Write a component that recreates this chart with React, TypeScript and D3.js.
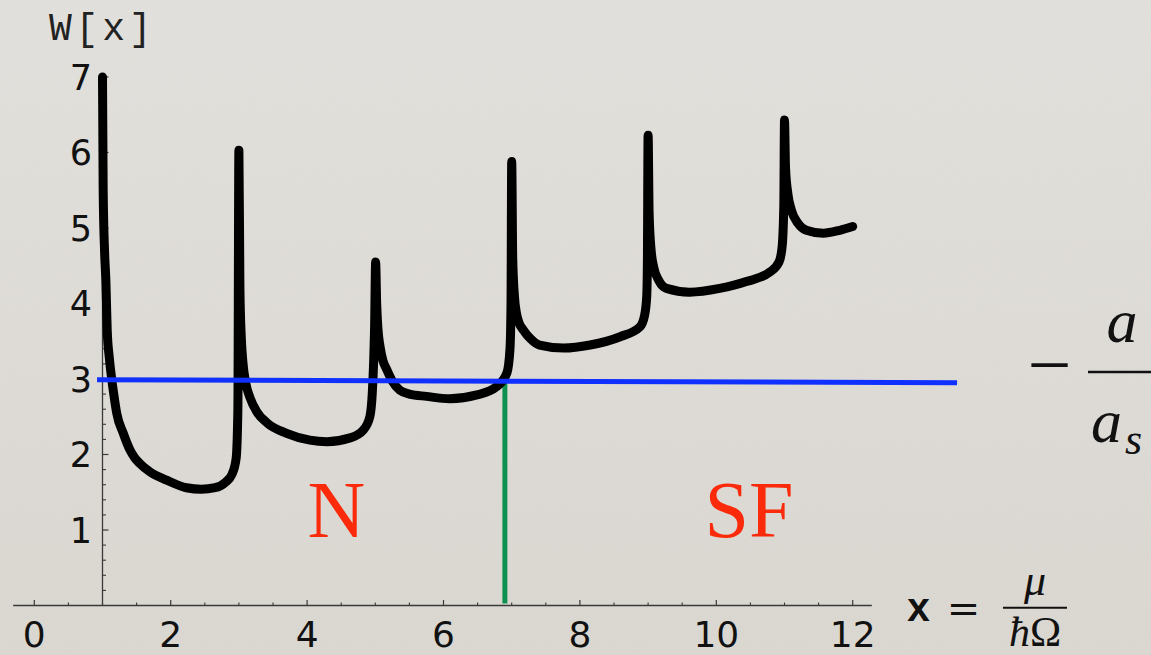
import React from "react";
import * as d3 from "d3";

// W[x] curve samples (x, W)
const curveX = [
  1.0, 1.01, 1.03, 1.05, 1.069, 1.1, 1.135, 1.17, 1.208, 1.305, 1.403, 1.47, 1.549, 1.696, 1.94, 2.23, 2.45, 2.65, 2.8, 2.9, 2.96, 2.985, 3.0,
  3.015, 3.035, 3.06, 3.1, 3.16, 3.26, 3.41, 3.7, 4.04, 4.29, 4.63, 4.82, 4.92, 4.955, 4.975, 4.99, 5.005,
  5.02, 5.04, 5.07, 5.11, 5.17, 5.25, 5.36, 5.5, 5.75, 6.09, 6.49, 6.78, 6.93, 6.975, 6.99, 7.0,
  7.015, 7.04, 7.07, 7.11, 7.17, 7.28, 7.41, 7.76, 8.15, 8.59, 8.88, 8.95, 8.98, 8.99, 9.0,
  9.015, 9.04, 9.08, 9.16, 9.27, 9.61, 10.05, 10.44, 10.79, 10.92, 10.965, 10.99, 11.0,
  11.015, 11.05, 11.1, 11.2, 11.32, 11.57, 11.81, 12.0,
];
const curveW = [
  7.0, 5.5, 4.7, 4.29, 3.65, 3.28, 3.0, 2.77, 2.55, 2.28, 2.06, 1.96, 1.88, 1.77, 1.66, 1.56, 1.54, 1.56, 1.63, 1.74, 1.95, 2.6, 6.03,
  4.2, 3.55, 3.21, 2.95, 2.76, 2.57, 2.42, 2.28, 2.19, 2.17, 2.22, 2.32, 2.5, 2.8, 3.21, 3.7, 4.55,
  4.0, 3.65, 3.43, 3.25, 3.12, 2.97, 2.85, 2.8, 2.77, 2.74, 2.79, 2.9, 3.08, 3.4, 4.0, 5.88,
  4.6, 4.1, 3.87, 3.74, 3.65, 3.53, 3.45, 3.41, 3.45, 3.56, 3.69, 3.85, 4.1, 4.6, 6.23,
  5.2, 4.75, 4.49, 4.3, 4.2, 4.15, 4.2, 4.29, 4.42, 4.55, 4.75, 5.3, 6.43,
  5.8, 5.45, 5.24, 5.06, 4.97, 4.93, 4.97, 5.02,
];

// threshold line (blue) endpoints
const levelX = [0.92, 13.53];
const levelY = [2.99, 2.95];

// transition marker (green)
const transitionX = 6.9;

const xTickLabels = [0, 2, 4, 6, 8, 10, 12];
const yTickLabels = [1, 2, 3, 4, 5, 6, 7];
const regionLabels = [
  { text: "N", x: 4.43 },
  { text: "SF", x: 10.48 },
];

const W = 1151;
const H = 655;

export default function App() {
  const x = d3.scaleLinear().domain([0, 12]).range([34.3, 852.7]);
  const y = d3.scaleLinear().domain([0, 7]).range([605.5, 77]);

  const pts: [number, number][] = curveX.map((v, i) => [v, curveW[i]]);
  const line = d3
    .line<[number, number]>()
    .x((d) => x(d[0]))
    .y((d) => y(d[1]))
    .curve(d3.curveMonotoneX);

  const xMinor = d3.range(0, 12.01, 0.5).filter((v) => v % 2 !== 0);
  const yMinor = d3.range(0.2, 7.01, 0.2).filter((v) => Math.abs(v - Math.round(v)) > 0.01);

  const levelAt = (xv: number) =>
    levelY[0] + ((levelY[1] - levelY[0]) * (xv - levelX[0])) / (levelX[1] - levelX[0]);

  const axisColor = "#3a3a3a";
  const tickFont = "'DejaVu Sans', sans-serif";

  return (
    <svg
      width={W}
      height={H}
      style={{ position: "absolute", left: 0, top: 0 }}
      xmlns="http://www.w3.org/2000/svg"
    >
      <defs>
        <filter id="paper" x="0" y="0" width="100%" height="100%">
          <feTurbulence type="fractalNoise" baseFrequency="0.9" numOctaves="2" seed="3" result="n" />
          <feColorMatrix
            type="matrix"
            values="0 0 0 0 0.45  0 0 0 0 0.43  0 0 0 0 0.40  0 0 0 0.10 0"
          />
        </filter>
        <linearGradient id="bg" x1="0" y1="0" x2="0" y2="1">
          <stop offset="0" stopColor="#e4e2de" />
          <stop offset="1" stopColor="#dcd9d3" />
        </linearGradient>
      </defs>
      <rect x={0} y={0} width={W} height={H} fill="url(#bg)" />
      <rect x={0} y={0} width={W} height={H} filter="url(#paper)" />

      {/* x axis */}
      <line x1={x(-0.31)} x2={x(12.28)} y1={y(0)} y2={y(0)} stroke={axisColor} strokeWidth={1.3} />
      {xTickLabels.map((t) => (
        <line key={"xM" + t} x1={x(t)} x2={x(t)} y1={y(0)} y2={y(0) - 5.5} stroke={axisColor} strokeWidth={1.2} />
      ))}
      {xMinor.map((t) => (
        <line key={"xm" + t} x1={x(t)} x2={x(t)} y1={y(0)} y2={y(0) - 3} stroke={axisColor} strokeWidth={1.1} />
      ))}
      {xTickLabels.map((t) => (
        <text
          key={"xl" + t}
          x={x(t)}
          y={646.5}
          textAnchor="middle"
          fontFamily={tickFont}
          fontSize={36}
          fill="#111"
        >
          {t}
        </text>
      ))}

      {/* y axis */}
      <line x1={x(1)} x2={x(1)} y1={y(0)} y2={y(7)} stroke={axisColor} strokeWidth={1.3} />
      {yTickLabels.map((t) => (
        <line key={"yM" + t} x1={x(1)} x2={x(1) + 6} y1={y(t)} y2={y(t)} stroke={axisColor} strokeWidth={1.2} />
      ))}
      {yMinor.map((t) => (
        <line key={"ym" + t} x1={x(1)} x2={x(1) + 3.5} y1={y(t)} y2={y(t)} stroke={axisColor} strokeWidth={1.1} />
      ))}
      {yTickLabels.map((t) => (
        <text
          key={"yl" + t}
          x={92}
          y={y(t) + 12.5}
          textAnchor="end"
          fontFamily={tickFont}
          fontSize={35}
          fill="#111"
        >
          {t}
        </text>
      ))}

      {/* y axis title */}
      <text
        x={49}
        y={40}
        fontFamily="'Liberation Mono', 'DejaVu Sans Mono', monospace"
        fontSize={38}
        letterSpacing={3.8}
        fill="#222"
      >
        W[x]
      </text>

      {/* green transition line */}
      <line
        x1={x(transitionX)}
        x2={x(transitionX)}
        y1={y(0) - 2}
        y2={y(levelAt(transitionX))}
        stroke="#0e9150"
        strokeWidth={5}
      />

      {/* curve */}
      <path
        d={line(pts) || ""}
        fill="none"
        stroke="#000"
        strokeWidth={9}
        strokeLinecap="round"
        strokeLinejoin="round"
      />

      {/* blue level line */}
      <line
        x1={x(levelX[0])}
        x2={x(levelX[1])}
        y1={y(levelY[0])}
        y2={y(levelY[1])}
        stroke="#0f30ff"
        strokeWidth={5}
      />

      {/* region labels */}
      {regionLabels.map((r) => (
        <text
          key={r.text}
          x={x(r.x)}
          y={537}
          textAnchor="middle"
          fontFamily="'Liberation Serif', serif"
          fontSize={80}
          fill="#fa2a0a"
        >
          {r.text}
        </text>
      ))}

      {/* x axis formula: x = mu / (hbar Omega) */}
      <text
        x={918.5}
        y={621}
        textAnchor="middle"
        fontFamily="'Liberation Mono', monospace"
        fontWeight="bold"
        fontSize={40}
        fill="#111"
      >
        x
      </text>
      <text x={963.5} y={622} textAnchor="middle" fontFamily="'DejaVu Serif', serif" fontSize={40} fill="#111">
        =
      </text>
      <text
        x={1035}
        y={595}
        textAnchor="middle"
        fontFamily="'Liberation Serif', serif"
        fontStyle="italic"
        fontSize={44}
        fill="#111"
      >
        μ
      </text>
      <line x1={1003} x2={1067} y1={607.7} y2={607.7} stroke="#111" strokeWidth={2} />
      <text
        x={1035}
        y={646}
        textAnchor="middle"
        fontFamily="'Liberation Serif', serif"
        fontSize={42}
        fill="#111"
      >
        <tspan fontStyle="italic">ħ</tspan>Ω
      </text>

      {/* right formula: - a / a_s */}
      <text x={1049.5} y={391} textAnchor="middle" fontFamily="'Liberation Serif', serif" fontSize={78} fill="#111">
        −
      </text>
      <line x1={1088} x2={1160} y1={372} y2={372} stroke="#111" strokeWidth={2.5} />
      <text
        x={1122}
        y={342}
        textAnchor="middle"
        fontFamily="'Liberation Serif', serif"
        fontStyle="italic"
        fontSize={62}
        fill="#111"
      >
        a
      </text>
      <text
        x={1091}
        y={442}
        fontFamily="'Liberation Serif', serif"
        fontStyle="italic"
        fontSize={62}
        fill="#111"
      >
        a
        <tspan fontSize={44} dy={12} dx={3}>
          s
        </tspan>
      </text>
    </svg>
  );
}
